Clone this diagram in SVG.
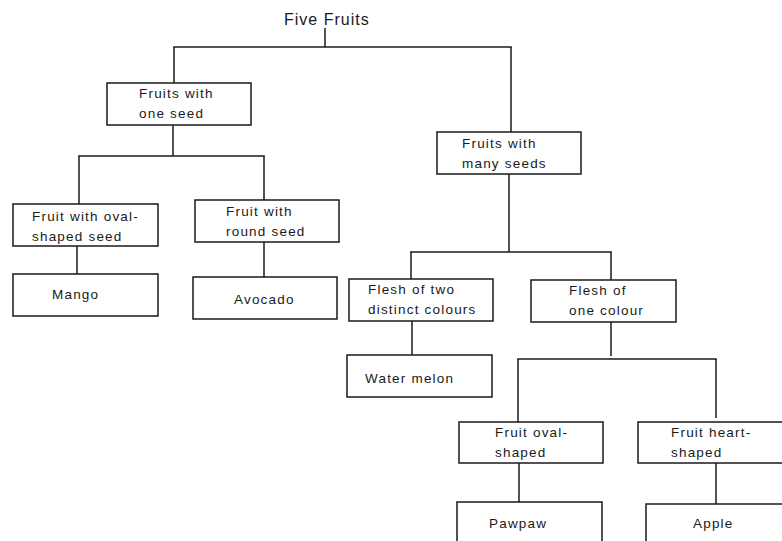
<svg xmlns="http://www.w3.org/2000/svg" width="782" height="541" viewBox="0 0 782 541">
<style>
.box{fill:#fff;stroke:#1a1a1a;stroke-width:1.5}
.t{font-family:"Liberation Sans",Arial,sans-serif;font-size:13.5px;letter-spacing:1.2px;fill:#1a1a1a}
.title{font-family:"Liberation Sans",Arial,sans-serif;font-size:16px;letter-spacing:1px;fill:#1a1a1a}
#connectors line{stroke:#1a1a1a;stroke-width:1.5;fill:none}
</style>
<rect width="782" height="541" fill="#fff"/>
<g id="connectors">
<line x1="325" y1="28" x2="325" y2="47"/>
<line x1="173.25" y1="47" x2="511.75" y2="47"/>
<line x1="174" y1="47" x2="174" y2="83"/>
<line x1="511" y1="47" x2="511" y2="132"/>
<line x1="173" y1="125" x2="173" y2="156"/>
<line x1="78.25" y1="156" x2="264.75" y2="156"/>
<line x1="79" y1="156" x2="79" y2="204"/>
<line x1="264" y1="156" x2="264" y2="200"/>
<line x1="77" y1="246" x2="77" y2="274"/>
<line x1="264" y1="242" x2="264" y2="277"/>
<line x1="509" y1="174" x2="509" y2="252"/>
<line x1="410.25" y1="252" x2="611.75" y2="252"/>
<line x1="411" y1="252" x2="411" y2="279"/>
<line x1="611" y1="252" x2="611" y2="280"/>
<line x1="412" y1="321" x2="412" y2="355"/>
<line x1="611" y1="322" x2="611" y2="356"/>
<line x1="517.25" y1="359" x2="716.75" y2="359"/>
<line x1="518" y1="359" x2="518" y2="422"/>
<line x1="716" y1="359" x2="716" y2="418"/>
<line x1="519" y1="463" x2="519" y2="502"/>
<line x1="716" y1="463" x2="716" y2="504"/>
</g>
<g id="title"><text class="title" x="284" y="25">Five Fruits</text></g>
<g id="n1"><rect class="box" x="107" y="83" width="144" height="42"/><text class="t" x="139" y="97.5">Fruits with</text><text class="t" x="139" y="117.5">one seed</text></g>
<g id="n2"><rect class="box" x="437" y="132" width="144" height="42"/><text class="t" x="462" y="147.5">Fruits with</text><text class="t" x="462" y="167.5">many seeds</text></g>
<g id="n3"><rect class="box" x="13" y="204" width="145" height="42"/><text class="t" x="32" y="221">Fruit with oval-</text><text class="t" x="32" y="241">shaped seed</text></g>
<g id="n4"><rect class="box" x="13" y="274" width="145" height="42"/><text class="t" x="52" y="299">Mango</text></g>
<g id="n5"><rect class="box" x="195" y="200" width="144" height="42"/><text class="t" x="226" y="216">Fruit with</text><text class="t" x="226" y="236">round seed</text></g>
<g id="n6"><rect class="box" x="193" y="277" width="144" height="42"/><text class="t" x="234" y="304">Avocado</text></g>
<g id="n7"><rect class="box" x="349" y="279" width="144" height="42"/><text class="t" x="368" y="293.5">Flesh of two</text><text class="t" x="368" y="313.5">distinct colours</text></g>
<g id="n8"><rect class="box" x="347" y="355" width="145" height="42"/><text class="t" x="365" y="383">Water melon</text></g>
<g id="n9"><rect class="box" x="531" y="280" width="145" height="42"/><text class="t" x="569" y="295">Flesh of</text><text class="t" x="569" y="315">one colour</text></g>
<g id="n10"><rect class="box" x="459" y="422" width="144" height="41"/><text class="t" x="495" y="437">Fruit oval-</text><text class="t" x="495" y="457">shaped</text></g>
<g id="n11"><rect class="box" x="457" y="502" width="145" height="46"/><text class="t" x="489" y="528">Pawpaw</text></g>
<g id="n12"><rect class="box" x="638" y="422" width="150" height="41"/><text class="t" x="671" y="437">Fruit heart-</text><text class="t" x="671" y="457">shaped</text></g>
<g id="n13"><rect class="box" x="646" y="504" width="150" height="46"/><text class="t" x="693" y="528">Apple</text></g>
</svg>
